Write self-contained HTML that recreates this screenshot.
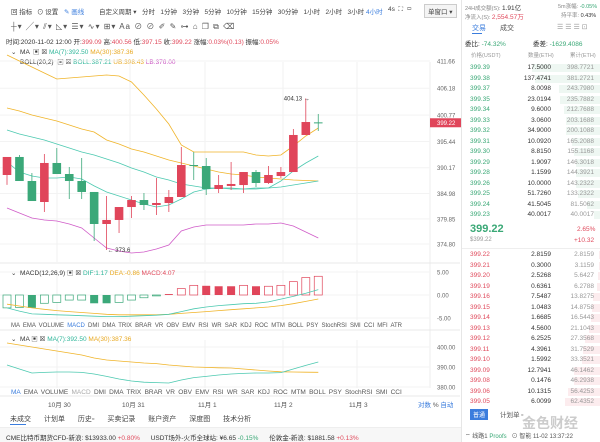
<!DOCTYPE html>
<html><head><meta charset="utf-8"><style>
*{margin:0;padding:0;box-sizing:border-box}
body{width:600px;height:442px;overflow:hidden;background:#fff;font-family:"Liberation Sans","Noto Sans CJK SC",sans-serif;font-size:7px;color:#333;position:relative}
.abs{position:absolute;white-space:nowrap}
#right{position:absolute;left:461px;top:0;width:139px;height:442px;border-left:1px solid #e6e6e6;background:#fff}
.row{position:absolute;left:0;width:139px;height:10px;font-size:6.5px;line-height:10px}
.row span{position:absolute}
.g{color:#3aa876}.r{color:#e04a5c}
</style></head><body>
<div class="abs" style="left:0;top:4px;width:460px;height:14px;font-size:6.5px;color:#444">
 <span class="abs" style="left:11px;top:2px">回 指标</span>
 <span class="abs" style="left:37px;top:2px">⊙ 设置</span>
 <span class="abs" style="left:64px;top:2px;color:#3b7ddd">✎ 画线</span>
 <span class="abs" style="left:99px;top:2px">自定义周期 ▾</span>
 <span class="abs" style="left:142px;top:2px">分时&nbsp;&nbsp;&nbsp;1分钟&nbsp;&nbsp;&nbsp;3分钟&nbsp;&nbsp;&nbsp;5分钟&nbsp;&nbsp;&nbsp;10分钟&nbsp;&nbsp;&nbsp;15分钟&nbsp;&nbsp;&nbsp;30分钟&nbsp;&nbsp;&nbsp;1小时&nbsp;&nbsp;&nbsp;2小时&nbsp;&nbsp;&nbsp;3小时&nbsp;<span style="color:#3b7ddd">4小时</span></span>
 <span class="abs" style="left:388px;top:2px">4s&nbsp;&nbsp;⛶&nbsp;&nbsp;▭</span>
 <span class="abs" style="left:424px;top:0;border:1px solid #ccc;padding:1px 3px;background:#f4f4f4">单窗口 ▾</span>
</div>
<div class="abs" style="left:11px;top:21px;font-size:8px;color:#555;letter-spacing:1px">┼▾ ╱▾ ⫽▾ ◺▾ ☰▾ ∿▾ ⊞▾ Aa ⊘ ⊘ ✐ ✎ ⊶ ⌂ ❐ ⧉ ⌫</div>
<div class="abs" style="left:6px;top:36px;font-size:6.5px">时间:2020-11-02 12:00 开:<span class="r">399.09</span> 高:<span class="r">400.56</span> 低:<span class="r">397.15</span> 收:<span class="r">399.22</span> 涨幅:<span class="r">0.03%(0.13)</span> 振幅:<span class="r">0.05%</span></div>
<div class="abs" style="left:11px;top:46px;font-size:6.5px">⌄&nbsp; MA &nbsp;▣ ☒ <span style="color:#2fb69a">MA(7):392.50</span> <span style="color:#e8a820">MA(30):387.36</span></div>
<div class="abs" style="left:20px;top:56px;font-size:6.5px">BOLL(20,2) &nbsp;▣ ☒ <span style="color:#2fb69a">BOLL:387.21</span> <span style="color:#e8a820">UB:398.43</span> <span style="color:#c84fc0">LB:376.00</span></div>

<svg id="chart" width="461" height="442" style="position:absolute;left:0;top:0;pointer-events:none"></svg>

<div class="abs" style="left:11px;top:267px;font-size:6.5px">⌄&nbsp; MACD(12,26,9) ▣ ☒ <span style="color:#2fb69a">DIF:1.17</span> <span style="color:#e8a820">DEA:-0.86</span> <span style="color:#e04a5c">MACD:4.07</span></div>
<div class="abs" style="left:11px;top:323px;font-size:6px;color:#555;word-spacing:1.5px">MA EMA VOLUME <span style="color:#3b7ddd">MACD</span> DMI DMA TRIX BRAR VR OBV EMV RSI WR SAR KDJ ROC MTM BOLL PSY StochRSI SMI CCI MFI ATR</div>
<div class="abs" style="left:11px;top:333px;font-size:6.5px">⌄&nbsp; MA ▣ ☒ <span style="color:#2fb69a">MA(7):392.50</span> <span style="color:#e8a820">MA(30):387.36</span></div>
<div class="abs" style="left:11px;top:389px;font-size:6.5px;color:#555;word-spacing:1.5px"><span style="color:#3b7ddd">MA</span> EMA VOLUME <span style="color:#aaa">MACD</span> DMI DMA TRIX BRAR VR OBV EMV RSI WR SAR KDJ ROC MTM BOLL PSY StochRSI SMI CCI</div>
<div class="abs" style="left:0;top:399px;width:460px;font-size:6.5px;color:#555">
 <span class="abs" style="left:48px">10月 30</span><span class="abs" style="left:122px">10月 31</span><span class="abs" style="left:198px">11月 1</span><span class="abs" style="left:274px">11月 2</span><span class="abs" style="left:349px">11月 3</span>
 <span class="abs" style="left:418px;color:#3b7ddd">对数 <span style="color:#555">%</span> 自动</span></div>
<div class="abs" style="left:10px;top:414px;font-size:7px;color:#444;word-spacing:11px">未成交 计划单 历史▫ 买卖记录 账户资产 深度图 技术分析</div>
<div class="abs" style="left:10px;top:424px;width:16px;height:1px;background:#3b7ddd"></div>
<div class="abs" style="left:0;top:427px;width:600px;height:15px;background:#f7f7f7;border-top:1px solid #eee;font-size:6.5px;padding:4px 6px">CME比特币期货CFD-新浪: $13933.00 <span class="r">+0.80%</span>&nbsp;&nbsp;&nbsp;&nbsp;&nbsp; USDT场外-火币全球站: ¥6.65 <span class="g">-0.15%</span>&nbsp;&nbsp;&nbsp;&nbsp;&nbsp; 伦敦金-新浪: $1881.58 <span class="r">+0.13%</span></div>

<div id="right">
 <div class="abs" style="left:3px;top:2px;font-size:5.5px;color:#888">24H成交额(S): <span style="color:#333;font-size:6.5px">1.91亿</span></div>
 <div class="abs" style="left:96px;top:2px;font-size:5.5px;color:#888">5m涨幅: <span class="g">-0.05%</span></div>
 <div class="abs" style="left:3px;top:11px;font-size:5.5px;color:#888">净流入(S): <span class="r" style="font-size:6.5px">2,554.57万</span></div>
 <div class="abs" style="left:99px;top:11px;font-size:5.5px;color:#888">持平率: <span style="color:#333">0.43%</span></div>
 <div class="abs" style="left:10px;top:23px;font-size:7px;color:#3b7ddd">交易</div>
 <div class="abs" style="left:10px;top:33px;width:10px;height:1px;background:#3b7ddd"></div>
 <div class="abs" style="left:38px;top:23px;font-size:7px;color:#555">成交</div>
 <div class="abs" style="left:95px;top:23px;font-size:7px;color:#999">☰ ☰ ☰ ⊡</div>
 <div class="abs" style="left:3px;top:38px;font-size:6.5px">委比: <span class="g">-74.32%</span></div>
 <div class="abs" style="left:71px;top:38px;font-size:6.5px">委差: <span class="g">-1629.4086</span></div>
 <div class="abs" style="left:9px;top:51px;font-size:5.5px;color:#999">价格(USDT)</div>
 <div class="abs" style="left:66px;top:51px;font-size:5.5px;color:#999">数量(ETH)</div>
 <div class="abs" style="left:108px;top:51px;font-size:5.5px;color:#999">累计(ETH)</div>
 <div id="asks"></div>
 <div class="abs" style="left:8px;top:223px;font-size:11px;color:#3aa876;font-weight:bold">399.22</div>
 <div class="abs" style="left:115px;top:226px;font-size:6.5px"><span class="r">2.65%</span></div>
 <div class="abs" style="left:8px;top:237px;font-size:6px;color:#999">$399.22</div>
 <div class="abs" style="left:112px;top:237px;font-size:6.5px"><span class="r">+10.32</span></div>
 <div class="abs" style="left:0;top:248px;width:139px;height:1px;background:#eee"></div>
 <div id="bids"></div>
 <div class="abs" style="left:8px;top:409px;background:#3b7ddd;color:#fff;font-size:6px;padding:1px 3px">普通</div>
 <div class="abs" style="left:38px;top:409px;font-size:6.5px;color:#555">计划单 ▫</div>
 <div class="abs" style="left:60px;top:413px;font-size:14px;color:#ccc;font-weight:bold">金色财经</div>
 <div class="abs" style="left:3px;top:431px;font-size:6px;color:#555">⌔ 线路1 <span class="g">Proofs</span>&nbsp;&nbsp; ⊙ 智能 11-02 13:37:22</div>
</div>

<script>
// ----- order book data -----
const askPrices=["399.39","399.38","399.37","399.35","399.34","399.33","399.32","399.31","399.30","399.29","399.28","399.26","399.25","399.24","399.23"];
const askQty=["17.5000","137.4741","8.0098","23.0194","9.6000","3.0600","34.9000","10.0920","8.8150","1.9097","1.1599","10.0000","51.7260","41.5045","40.0017"];
const askCum=["398.7721","381.2721","243.7980","235.7882","212.7688","203.1688","200.1088","165.2088","155.1168","146.3018","144.3921","143.2322","133.2322","81.5062","40.0017"];
const bidPrices=["399.22","399.21","399.20","399.19","399.16","399.15","399.14","399.13","399.12","399.11","399.10","399.09","399.08","399.06","399.05"];
const bidQty=["2.8159","0.3000","2.5268","0.6361","7.5487","1.0483","1.6685","4.5600","6.2525","4.3961","1.5992","12.7941","0.1476","10.1315","6.0099"];
const bidCum=["2.8159","3.1159","5.6427","6.2788","13.8275","14.8758","16.5443","21.1043","27.3568","31.7529","33.3521","46.1462","46.2938","56.4253","62.4352"];
function book(id,pr,q,c,top,cls,bg,max){
 const box=document.getElementById(id);
 pr.forEach((p,i)=>{
  const r=document.createElement('div');r.className='row';r.style.top=(top+i*10.5)+'px';
  
  
  const w=Math.min(139,parseFloat(c[i])/max*139*0.5);
  r.innerHTML='<div style="position:absolute;right:0;top:1px;height:8px;width:'+w+'px;background:'+bg+'"></div><span class="'+cls+'" style="left:8px">'+p+'</span><span style="right:50px">'+q[i]+'</span><span style="right:7px;color:#999">'+c[i]+'</span>';
  box.appendChild(r);
 });
}
book('asks',askPrices,askQty,askCum,63,'g','#eef7f2',400);
book('bids',bidPrices,bidQty,bidCum,250,'r','#fcecee',120);

// ----- chart data -----
const opens=[388.7,392.33,387.49,383.26,391.12,388.9,387.49,385.28,378.83,379.64,382.25,383.66,382.66,383.06,384.27,390.71,390.51,385.88,386.49,386.68,389.3,387.09,388.5,389.3,396.76,399.3];
const highs=[392.33,392.73,389.1,392.93,394.14,390.31,392.12,385.28,384.47,382.25,384.47,385.07,388.1,385.68,394.34,393.33,392.12,388.7,391.32,389.3,389.7,390.51,390.31,397.96,404.13,400.99];
const lows=[386.7,387.49,383.46,381.25,388.9,383.86,383.86,375.4,373.6,377.02,380.04,381.65,380.64,381.25,384.27,387.69,384.67,385.07,385.68,385.07,386.28,386.89,388.1,389.3,396.76,397.56];
const closes=[392.33,387.49,383.46,391.12,388.9,387.49,385.28,378.83,379.64,382.25,383.66,382.66,383.06,384.27,390.71,390.51,385.88,386.68,386.89,389.3,387.09,388.7,389.3,396.76,399.37,399.22];
const ma7=[391.32,389.3,388.5,388.1,388.1,388.3,387.9,386.5,385.28,384.47,383.66,382.86,382.25,382.66,383.87,385.28,385.88,386.08,386.08,385.88,385.88,386.08,387.49,389.5,391.12,392.53];
const ma30=[402.19,401.59,400.78,400.18,399.58,398.77,397.96,397.36,395.75,394.94,393.94,393.33,392.53,391.72,391.12,390.51,389.9,389.3,388.9,388.7,388.3,388.1,387.89,387.69,387.59,387.49];
const bollMid=[397.76,396.96,396.35,395.75,394.94,394.14,393.33,392.73,391.93,391.12,390.11,389.3,388.3,387.69,386.89,386.48,386.08,386.08,385.88,385.88,386.08,386.08,386.28,386.68,387.09,387.49];
const bollUb=[412.87,411.66,410.45,409.24,408.03,408.24,408.44,408.64,408.84,408.64,407.43,404.81,401.99,398.97,394.74,393.33,393.33,393.33,393.33,393.33,392.73,392.53,392.73,394.54,396.55,398.17];
const bollLb=[382.05,381.05,380.04,379.64,379.44,378.83,378.02,376.01,374.0,373.39,372.99,373.19,373.8,374.6,377.42,378.23,378.63,378.63,378.63,378.63,378.83,378.83,379.03,378.43,377.22,376.01];
const macdHist=[-2.8,-2.7,-2.8,-1.8,-1.6,-1.1,-1.1,-1.8,-1.8,-1.6,-1.1,-0.6,-0.2,0.2,1.4,2.1,2.0,1.9,1.9,2.1,1.9,1.9,2.1,2.9,3.8,4.07];
const macdFilled=[0,0,1,0,0,0,0,1,1,0,0,0,0,1,0,0,1,1,1,0,1,0,0,0,0,0];
const dif=[-2.8,-3.5,-4.1,-4.2,-4.3,-4.4,-4.5,-4.6,-4.7,-4.7,-4.6,-4.5,-4.4,-4.2,-3.6,-3.0,-2.6,-2.3,-2.1,-1.9,-1.8,-1.5,-0.9,-0.3,0.4,1.17];
const dea=[-2.0,-2.4,-2.8,-3.1,-3.4,-3.6,-3.8,-4.0,-4.2,-4.3,-4.3,-4.3,-4.3,-4.2,-4.0,-3.8,-3.6,-3.4,-3.2,-3.0,-2.8,-2.6,-2.3,-1.9,-1.4,-0.86];
const ma7b=[391,389,387,387.3,387.5,387.5,387.3,386.5,385.3,384,383,382.4,382.2,382,383.5,384.7,385.3,386,386.5,386.8,387,387,387.2,389,390.8,392.5];
const ma30b=[402,401,400,399,398,397,396,394.5,393.5,393,392.5,392,391.7,391,390.5,390,389.8,389.6,389.5,389,388.5,388,387.6,387.5,387.4,387.36];
const priceTicks=["411.66","406.18","400.77","395.44","390.17","384.98","379.85","374.80"];
const macdTicks=[5,0,-5];
const maTicks=[400,390,380];
const gridX=[57,130,205,283,357];

const NS='http://www.w3.org/2000/svg';
const svg=document.getElementById('chart');
const xOf=i=>7+i*12.45;
const yMain=p=>61+(411.66-p)*4.965;
const yMacd=v=>295-v*4.6;
const yMa=v=>347+(400-v)*2;
function el(t,a){const e=document.createElementNS(NS,t);for(const k in a)e.setAttribute(k,a[k]);svg.appendChild(e);return e;}
const RED='#e0455a',GREEN='#3ba879';
gridX.forEach(x=>{[[62,262],[270,320],[340,388]].forEach(r=>{const l=el('line',{x1:x,x2:x,y1:r[0],y2:r[1],stroke:'#f0f0f0'});

});});
el('line',{x1:430,x2:430,y1:62,y2:388,stroke:'#eee'});
el('line',{x1:0,x2:460,y1:263,y2:263,stroke:'#e8e8e8'});
el('line',{x1:0,x2:460,y1:330,y2:330,stroke:'#e8e8e8'});
el('line',{x1:0,x2:460,y1:396,y2:396,stroke:'#e8e8e8'});
priceTicks.forEach(t=>{const y=yMain(parseFloat(t));
 const g=el('line',{x1:0,x2:430,y1:y,y2:y,stroke:'#f3f3f3'});
 
 
 const tx=el('text',{x:437,y:y+2.5,'font-size':6,fill:'#666'});tx.textContent=t;
 
 
});
macdTicks.forEach(v=>{const y=yMacd(v);el('line',{x1:0,x2:430,y1:y,y2:y,stroke:'#f3f3f3'});
 const tx=el('text',{x:437,y:y+2.5,'font-size':6,fill:'#666'});tx.textContent=v.toFixed(2);
 
 });
maTicks.forEach(v=>{const y=yMa(v);el('line',{x1:0,x2:430,y1:y,y2:y,stroke:'#f3f3f3'});
 const tx=el('text',{x:437,y:y+2.5,'font-size':6,fill:'#666'});tx.textContent=v.toFixed(2);
 
 });
function line(arr,yf,color,name){
 const pts=arr.map((v,i)=>xOf(i).toFixed(1)+','+yf(v).toFixed(1)).join(' ');
 const p=el('polyline',{points:pts,fill:'none',stroke:color,'stroke-width':0.8});
 
 
}
line(bollUb,yMain,'#f0b429','boll-ub-line');
line(bollLb,yMain,'#d05cc8','boll-lb-line');
line(ma30,yMain,'#f0b429','ma30-line');
line(bollMid,yMain,'#4cc9b0','boll-mid-line');
line(ma7,yMain,'#4cc9b0','ma7-line');
opens.forEach((o,i)=>{
 const c=closes[i],up=c>=o,col=up?RED:GREEN,x=xOf(i);
 const w=el('line',{x1:x,x2:x,y1:yMain(highs[i]),y2:yMain(lows[i]),stroke:col,'stroke-width':0.8});
 
 
 const top=yMain(Math.max(o,c)),bot=yMain(Math.min(o,c));
 const b=el('rect',{x:x-4.3,y:top,width:8.6,height:Math.max(1,bot-top),fill:col});
 
 
});
const hi=Math.max(...highs),hiI=highs.indexOf(hi);
let t=el('text',{x:xOf(hiI)-22,y:yMain(hi)+2,'font-size':6,fill:'#333'});t.textContent=hi.toFixed(2)+' →';


const lo=Math.min(...lows),loI=lows.indexOf(lo);
t=el('text',{x:xOf(loI)+1,y:yMain(lo)+2,'font-size':6,fill:'#333'});t.textContent='← '+lo.toFixed(1);


const lp=closes[closes.length-1];
const tag=el('rect',{x:430,y:yMain(lp)-4.5,width:31,height:9,fill:'#e0455a'});


t=el('text',{x:437,y:yMain(lp)+2.3,'font-size':6,fill:'#fff'});t.textContent=lp.toFixed(2);


macdHist.forEach((v,i)=>{
 const col=v>=0?RED:GREEN,x=xOf(i),y0=yMacd(0),y1=yMacd(v);
 const f=macdFilled[i];
 const r=el('rect',{x:x-4,y:Math.min(y0,y1),width:8,height:Math.max(0.8,Math.abs(y1-y0)),fill:f?col:'#fff',stroke:col,'stroke-width':f?0:0.7});
 
 
});
line(dea,yMacd,'#f0b429','dea-line');
line(dif,yMacd,'#4cc9b0','dif-line');
line(ma30b,yMa,'#f0b429','ma30-sub-line');
line(ma7b,yMa,'#4cc9b0','ma7-sub-line');
</script>
</body></html>
